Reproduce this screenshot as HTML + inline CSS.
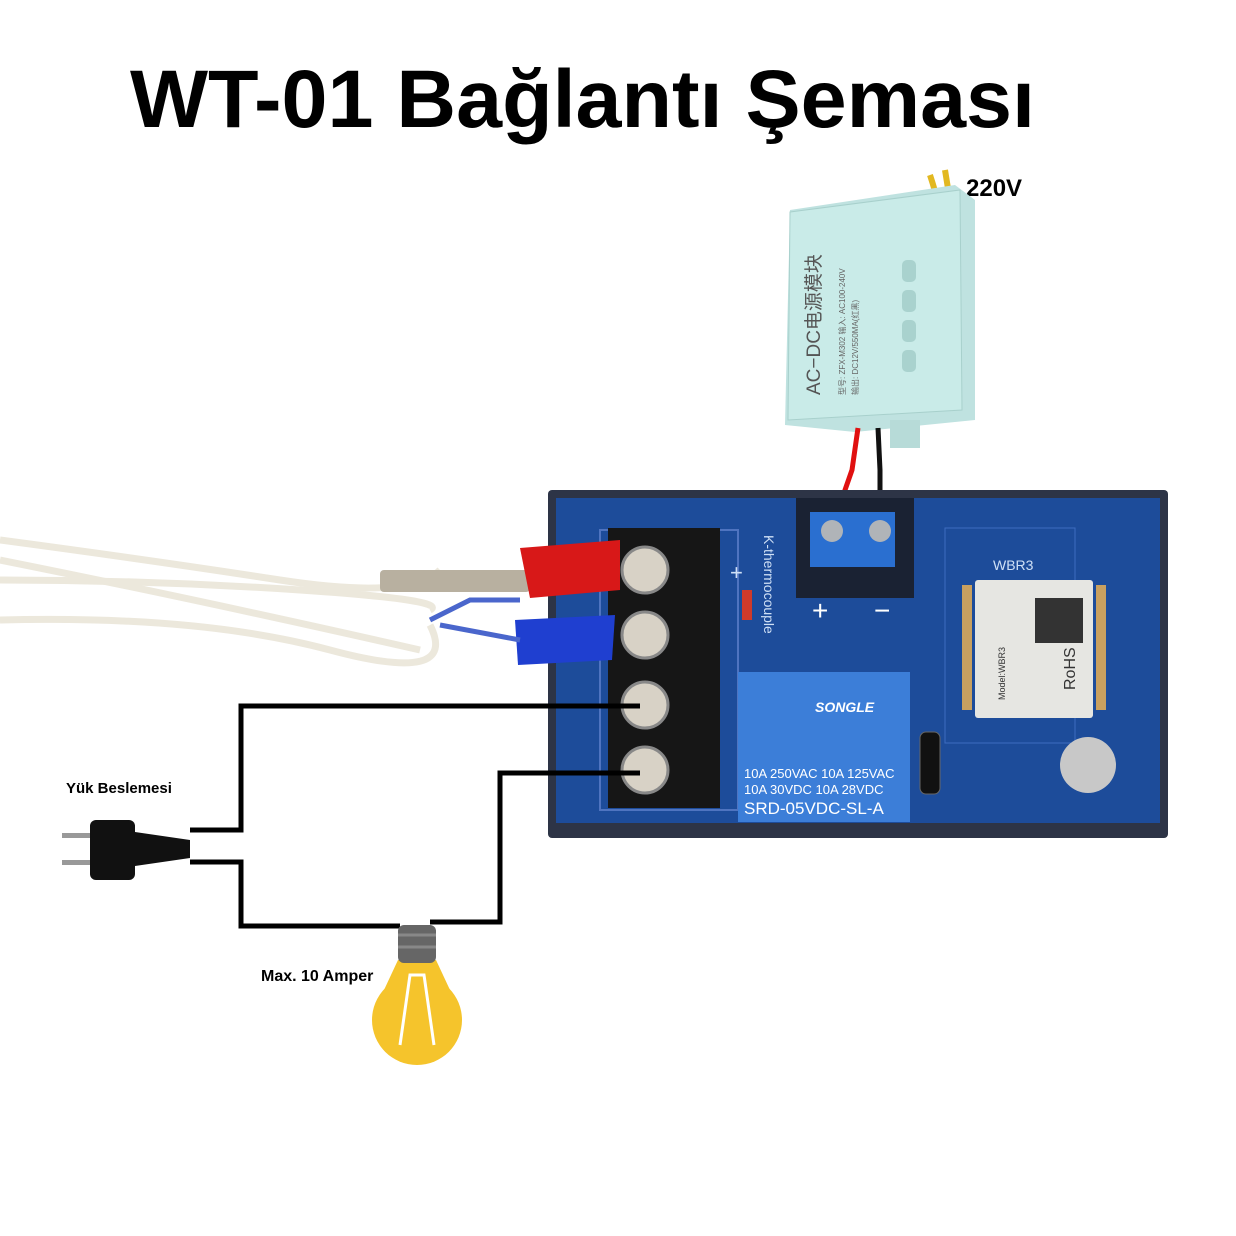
<!DOCTYPE html>
<html><head><meta charset="utf-8"><style>
html,body{margin:0;padding:0;background:#fff;}
svg{display:block;}
text{font-family:"Liberation Sans","Noto Sans CJK SC",sans-serif;}
</style></head><body>
<svg width="1236" height="1236" viewBox="0 0 1236 1236" xmlns="http://www.w3.org/2000/svg">
<rect width="1236" height="1236" fill="#fff"/>
<text x="130" y="127" textLength="905" lengthAdjust="spacingAndGlyphs" font-size="82" font-weight="bold" fill="#000">WT-01 Bağlantı Şeması</text>

<path d="M930 175 Q935 190 940 210 M945 170 Q948 190 952 210" stroke="#e2b820" stroke-width="6" fill="none"/>
<text x="966" y="196" font-size="24" font-weight="bold" fill="#000">220V</text>
<path d="M790 210 L955 185 L975 200 L975 420 L855 432 L785 425 Z" fill="#bfe2e0"/>
<path d="M790 212 L960 190 L962 410 L788 420 Z" fill="#c9ebe8" stroke="#a8d0cc"/>
<rect x="890" y="420" width="30" height="28" fill="#b7dbd8"/>
<g fill="#a9d2ce"><rect x="902" y="260" width="14" height="22" rx="5"/><rect x="902" y="290" width="14" height="22" rx="5"/><rect x="902" y="320" width="14" height="22" rx="5"/><rect x="902" y="350" width="14" height="22" rx="5"/></g>
<text transform="translate(820,395) rotate(-90)" font-size="19" fill="#555">AC−DC电源模块</text>
<text transform="translate(845,395) rotate(-90)" font-size="8" fill="#666">型号: ZFX-M302 输入: AC100-240V</text>
<text transform="translate(858,395) rotate(-90)" font-size="8" fill="#666">输出: DC12V/550MA(红黑)</text>
<path d="M858 428 L852 470 L845 490 L840 520" stroke="#e01010" stroke-width="5" fill="none"/>
<path d="M878 428 L880 470 L880 520" stroke="#111" stroke-width="5" fill="none"/>

<rect x="548" y="490" width="620" height="348" fill="#2d3446" rx="4"/>
<rect x="556" y="498" width="604" height="325" fill="#1d4c9a"/>
<rect x="600" y="530" width="138" height="280" fill="none" stroke="#4f74c0" stroke-width="2"/>
<rect x="796" y="498" width="118" height="100" fill="#1a2233"/>
<rect x="810" y="512" width="85" height="55" fill="#2a6fd0"/>
<circle cx="832" cy="531" r="11" fill="#b0b4b8"/><circle cx="880" cy="531" r="11" fill="#b0b4b8"/>
<text x="812" y="620" font-size="28" fill="#fff">+</text><text x="874" y="620" font-size="28" fill="#fff">−</text>
<text transform="translate(764,535) rotate(90)" font-size="14" fill="#cfe0f6" font-family="Liberation Mono,monospace">K-thermocouple</text>
<rect x="742" y="590" width="10" height="30" fill="#d03a2a"/>
<text x="730" y="580" font-size="22" fill="#cfe0f6">+</text>
<rect x="608" y="528" width="112" height="280" fill="#161616"/>
<g fill="#d8d2c6" stroke="#888" stroke-width="3"><circle cx="645" cy="570" r="23"/><circle cx="645" cy="635" r="23"/><circle cx="645" cy="705" r="23"/><circle cx="645" cy="770" r="23"/></g>
<rect x="738" y="672" width="172" height="150" fill="#3c7ed8"/>
<text x="815" y="712" font-size="14" font-style="italic" font-weight="bold" fill="#fff">SONGLE</text>
<text x="744" y="778" font-size="13" fill="#fff">10A 250VAC  10A 125VAC</text>
<text x="744" y="794" font-size="13" fill="#fff">10A  30VDC  10A  28VDC</text>
<text x="744" y="814" font-size="17" fill="#fff">SRD-05VDC-SL-A</text>
<rect x="920" y="732" width="20" height="62" rx="6" fill="#111" stroke="#666"/>
<rect x="945" y="528" width="130" height="215" fill="none" stroke="#3d6cc0"/>
<text x="993" y="570" font-size="14" fill="#cfe0f6">WBR3</text>
<rect x="975" y="580" width="118" height="138" fill="#e6e6e2" rx="3"/>
<g fill="#c8a060"><rect x="962" y="585" width="10" height="125"/><rect x="1096" y="585" width="10" height="125"/></g>
<rect x="1035" y="598" width="48" height="45" fill="#333"/>
<text transform="translate(1005,700) rotate(-90)" font-size="9" fill="#333">Model:WBR3</text>
<text transform="translate(1075,690) rotate(-90)" font-size="16" fill="#333">RoHS</text>
<circle cx="1088" cy="765" r="28" fill="#c8c8c8"/>

<g stroke="#ece8dc" stroke-width="7" fill="none">
<path d="M0 540 Q150 560 280 580 T440 570"/>
<path d="M0 580 Q150 580 300 590 T430 610"/>
<path d="M0 620 Q200 615 330 650 T430 625"/>
<path d="M0 560 Q200 600 420 650"/>
</g>
<rect x="380" y="570" width="150" height="22" fill="#b8b0a0" rx="4"/>
<path d="M520 548 L620 540 L620 590 L530 598 Z" fill="#d81818"/>
<path d="M515 620 L615 615 L612 660 L518 665 Z" fill="#1f3fd0"/>
<path d="M430 620 L470 600 L520 600 M440 625 L520 640" stroke="#4a66cc" stroke-width="5" fill="none"/>

<g stroke="#000" stroke-width="5" fill="none">
<path d="M640 706 L241 706 L241 830 L190 830"/>
<path d="M640 773 L500 773 L500 922 L430 922"/>
<path d="M190 862 L241 862 L241 926 L400 926"/>
</g>
<rect x="62" y="833" width="32" height="5" fill="#999"/><rect x="62" y="860" width="32" height="5" fill="#999"/>
<rect x="90" y="820" width="45" height="60" rx="6" fill="#111"/>
<path d="M135 832 L190 840 L190 858 L135 866 Z" fill="#111"/>
<text x="66" y="793" font-size="15" font-weight="bold" fill="#000">Yük Beslemesi</text>
<circle cx="417" cy="1020" r="45" fill="#f5c42c"/>
<path d="M398 960 L436 960 L450 990 L384 990 Z" fill="#f5c42c"/>
<path d="M400 1045 L410 975 L424 975 L434 1045" stroke="#fff" stroke-width="3" fill="none"/>
<rect x="398" y="925" width="38" height="38" fill="#666" rx="6"/>
<g stroke="#888" stroke-width="3"><line x1="398" y1="935" x2="436" y2="935"/><line x1="398" y1="947" x2="436" y2="947"/></g>
<text x="261" y="981" font-size="16" font-weight="bold" fill="#000">Max. 10 Amper</text>
</svg>
</body></html>
